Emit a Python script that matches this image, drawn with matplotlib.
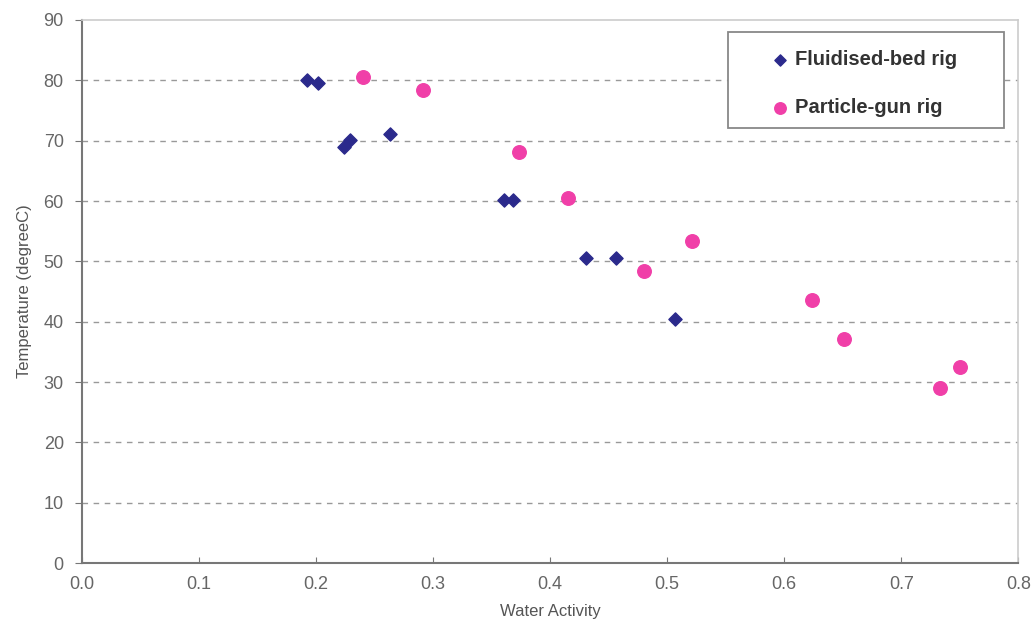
import matplotlib
matplotlib.use("Agg")
import matplotlib.pyplot as plt
from matplotlib.patches import Rectangle

fb_x = [0.192, 0.202, 0.224, 0.229, 0.263, 0.361, 0.368, 0.431, 0.456, 0.507]
fb_y = [80.1, 79.6, 69.0, 70.1, 71.1, 60.2, 60.2, 50.6, 50.6, 40.5]
pg_x = [0.240, 0.291, 0.373, 0.415, 0.521, 0.480, 0.624, 0.651, 0.733, 0.750]
pg_y = [80.6, 78.4, 68.2, 60.5, 53.4, 48.4, 43.6, 37.1, 29.0, 32.5]
x_ticks = [0.0, 0.1, 0.2, 0.3, 0.4, 0.5, 0.6, 0.7, 0.8]
y_ticks = [0, 10, 20, 30, 40, 50, 60, 70, 80, 90]

plt.rcParams['font.family'] = ['Liberation Sans', 'DejaVu Sans']

fig = plt.figure(figsize=(10.36, 6.43), dpi=100)
ax = fig.add_axes([0.079, 0.1244, 0.904, 0.8445])

for y in y_ticks[1:-1]:
    ax.axhline(y, color='#999999', linestyle=(0, (4, 4)), linewidth=1.0, zorder=1)

ax.scatter(fb_x, fb_y, marker='D', s=45, color='#2B2A8C', zorder=3, label='Fluidised-bed rig')
ax.scatter(pg_x, pg_y, marker='o', s=95, color='#F03FA8', zorder=3, label='Particle-gun rig')

ax.set_xlim(0, 0.8)
ax.set_ylim(0, 90)
ax.set_xticks(x_ticks)
ax.set_xticklabels([f"{v:.1f}" for v in x_ticks])
ax.set_yticks(y_ticks)
ax.set_yticklabels([str(v) for v in y_ticks])
ax.tick_params(colors='#777777', labelcolor='#666666', labelsize=13, length=5, direction='out', pad=8)
ax.tick_params(axis='x', direction='in', length=4, pad=9)

for s in ['left', 'bottom']:
    ax.spines[s].set_color('#777777')
    ax.spines[s].set_linewidth(1.5)
for s in ['top', 'right']:
    ax.spines[s].set_color('#cccccc')
    ax.spines[s].set_linewidth(1.2)

ax.set_xlabel('Water Activity', fontsize=12, color='#555555', labelpad=8)
ax.set_ylabel('Temperature (degreeC)', fontsize=12, color='#555555', labelpad=8)

# legend frame
ax.add_patch(Rectangle((0.690, 0.801), 0.295, 0.177, transform=ax.transAxes,
                       facecolor='white', edgecolor='#888888', linewidth=1.3, zorder=4))
leg = ax.legend(loc='upper left', bbox_to_anchor=(0.735, 0.945), frameon=False,
                prop={'weight': 'bold', 'size': 14.5}, labelspacing=1.45, borderpad=0,
                handletextpad=0.25, markerscale=0.85, handlelength=1.0, borderaxespad=0)
leg.set_zorder(5)
for t in leg.get_texts():
    t.set_color('#333333')

fig.savefig('out.png', dpi=100, facecolor='white')
